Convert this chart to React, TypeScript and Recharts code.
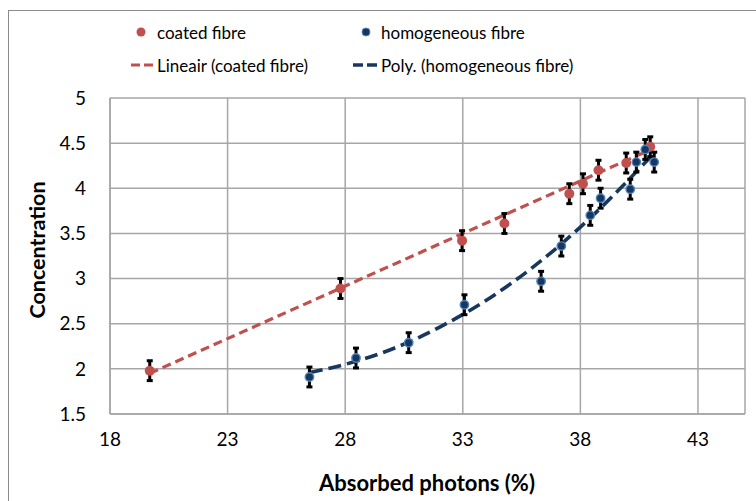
import {
  CartesianGrid,
  ComposedChart,
  ErrorBar,
  Line,
  Scatter,
  XAxis,
  YAxis,
} from "recharts";

// values
const coatedX = [19.69, 27.8, 32.97, 34.77, 37.53, 38.11, 38.77, 39.95, 40.97];
const coatedY = [1.98, 2.89, 3.42, 3.61, 3.94, 4.05, 4.2, 4.28, 4.46];
const coatedErr = [0.11, 0.11, 0.11, 0.11, 0.11, 0.11, 0.11, 0.11, 0.11];

const homogX = [26.48, 28.46, 30.7, 33.07, 36.33, 37.19, 38.42, 38.86, 40.12, 40.38, 40.76, 41.14];
const homogY = [1.91, 2.12, 2.29, 2.71, 2.97, 3.36, 3.7, 3.89, 3.99, 4.29, 4.43, 4.29];
const homogErr = [0.11, 0.11, 0.11, 0.11, 0.11, 0.11, 0.11, 0.11, 0.11, 0.11, 0.11, 0.11];

// trendlines as drawn in the picture
const linTrendX = [19.69, 41.0];
const linTrendY = [1.95, 4.43];
const polyTrendX = [26.5, 28, 30, 32, 34, 36, 38, 40, 41.2];
const polyTrendY = [1.96, 2.05, 2.22, 2.46, 2.76, 3.13, 3.57, 4.08, 4.41];

const xTicks = [18, 23, 28, 33, 38, 43];
const yTicks = [1.5, 2, 2.5, 3, 3.5, 4, 4.5, 5];

const RED = "#C0504D";
const NAVY = "#17375E";
const FONT = "Lato, 'Noto Sans', sans-serif";

const zip = (xs: number[], ys: number[], es?: number[]) =>
  xs.map((x, i) => ({ x, y: ys[i], err: es ? es[i] : 0 }));

const coated = zip(coatedX, coatedY, coatedErr);
const homog = zip(homogX, homogY, homogErr);
const linTrend = zip(linTrendX, linTrendY);
const polyTrend = zip(polyTrendX, polyTrendY);

const RedDot = (p: any) => <circle cx={p.cx} cy={p.cy} r={5} fill={RED} />;
const BlueDot = (p: any) => (
  <circle cx={p.cx} cy={p.cy} r={4.2} fill={NAVY} stroke="#4F81BD" strokeWidth={1.4} />
);

export default function App() {
  return (
    <div
      style={{
        position: "absolute",
        left: 0,
        top: 0,
        width: 756,
        height: 501,
        overflow: "hidden",
        background: "#fff",
      }}
    >
      <div
        style={{
          position: "absolute",
          left: 8,
          top: 10,
          width: 760,
          height: 500,
          borderTop: "1.5px solid #8c8c8c",
          borderLeft: "1.5px solid #8c8c8c",
        }}
      />
      <ComposedChart
        width={756}
        height={501}
        margin={{ top: 98, right: 11, bottom: 57, left: 50 }}
        style={{ position: "absolute", left: 0, top: 0 }}
      >
        <CartesianGrid stroke="#a6a6a6" strokeWidth={1.5} />
        <XAxis
          type="number"
          dataKey="x"
          domain={[18, 45]}
          ticks={xTicks}
          allowDataOverflow
          height={30}
          tickLine={false}
          tickSize={0}
          tickMargin={19}
          axisLine={{ stroke: "#a6a6a6", strokeWidth: 1.5 }}
          tick={{ fill: "#000", fontSize: 19, fontFamily: FONT }}
        />
        <YAxis
          type="number"
          dataKey="y"
          domain={[1.5, 5]}
          ticks={yTicks}
          allowDataOverflow
          width={60}
          tickLine={false}
          tickSize={0}
          tickMargin={24}
          axisLine={{ stroke: "#a6a6a6", strokeWidth: 1.5 }}
          tick={{ fill: "#000", fontSize: 19, fontFamily: FONT }}
        />
        <Line
          data={linTrend}
          dataKey="y"
          type="linear"
          stroke={RED}
          strokeWidth={3.2}
          strokeDasharray="9 5"
          dot={false}
          isAnimationActive={false}
        />
        <Line
          data={polyTrend}
          dataKey="y"
          type="monotone"
          stroke={NAVY}
          strokeWidth={3.6}
          strokeDasharray="13 6"
          dot={false}
          isAnimationActive={false}
        />
        <Scatter data={coated} dataKey="y" shape={RedDot} isAnimationActive={false}>
          <ErrorBar dataKey="err" direction="y" width={3} stroke="#000" strokeWidth={3} />
        </Scatter>
        <Scatter data={homog} dataKey="y" shape={BlueDot} isAnimationActive={false}>
          <ErrorBar dataKey="err" direction="y" width={3} stroke="#000" strokeWidth={3} />
        </Scatter>
      </ComposedChart>
      <svg
        width={756}
        height={501}
        style={{ position: "absolute", left: 0, top: 0, pointerEvents: "none" }}
        fontFamily={FONT}
      >
        <circle cx={141} cy={32} r={4.5} fill={RED} />
        <text x={157} y={32} fontSize={17} dominantBaseline="central" fill="#000">
          coated fibre
        </text>
        <circle cx={366} cy={32} r={4} fill={NAVY} stroke="#4F81BD" strokeWidth={1} />
        <text x={381} y={32} fontSize={17} dominantBaseline="central" fill="#000">
          homogeneous fibre
        </text>
        <line x1={131} y1={65} x2={153} y2={65} stroke={RED} strokeWidth={3.2} strokeDasharray="9 4" />
        <text x={157} y={65} fontSize={17} dominantBaseline="central" fill="#000">
          Lineair (coated fibre)
        </text>
        <line x1={353} y1={65} x2={377} y2={65} stroke={NAVY} strokeWidth={3.6} strokeDasharray="10 4" />
        <text x={381} y={65} fontSize={17} dominantBaseline="central" fill="#000">
          Poly. (homogeneous fibre)
        </text>
        <text
          x={427}
          y={482}
          fontSize={22}
          fontWeight="bold"
          textAnchor="middle"
          dominantBaseline="central"
          fill="#000"
        >
          Absorbed photons (%)
        </text>
        <text
          x={37}
          y={250}
          fontSize={21.5}
          fontWeight="bold"
          textAnchor="middle"
          dominantBaseline="central"
          fill="#000"
          transform="rotate(-90 37 250)"
        >
          Concentration
        </text>
      </svg>
    </div>
  );
}
